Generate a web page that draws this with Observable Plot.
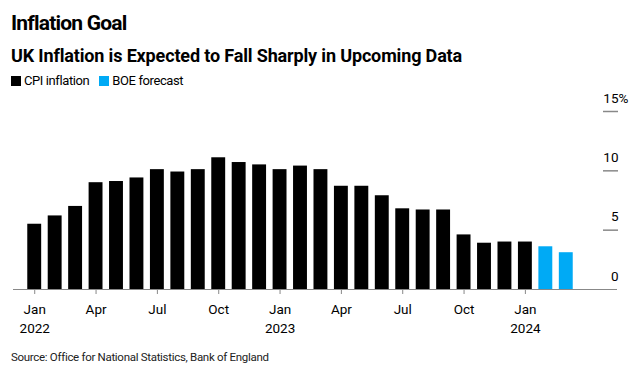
<!DOCTYPE html>
<html>
<head>
<meta charset="utf-8">
<script src="https://cdn.jsdelivr.net/npm/d3@7"></script>
<script src="https://cdn.jsdelivr.net/npm/@observablehq/plot@0.6"></script>
<style>
  html, body { margin: 0; padding: 0; background: #fff; }
  body { width: 638px; height: 374px; overflow: hidden; font-family: "Roboto", "Liberation Sans", sans-serif; color: #000; }
  .title { position: absolute; left: 11px; top: 11px; font-size: 21px; font-weight: bold; letter-spacing: -0.8px; }
  .subtitle { position: absolute; left: 11px; top: 45px; font-size: 18px; font-weight: bold; letter-spacing: -0.15px; }
  .legend { position: absolute; left: 11px; top: 73px; font-size: 13px; letter-spacing: -0.4px; display: flex; align-items: center; }
  .legend .sw { display: inline-block; width: 10px; height: 10px; margin-right: 3px; }
  .legend .item { display: flex; align-items: center; margin-right: 10px; }
  #chart { position: absolute; left: 0; top: 88px; }
  .source { position: absolute; left: 11px; top: 350px; font-size: 11.5px; letter-spacing: -0.3px; color: #222; }
</style>
</head>
<body>
<div class="title">Inflation Goal</div>
<div class="subtitle">UK Inflation is Expected to Fall Sharply in Upcoming Data</div>
<div class="legend" id="legend"></div>
<div id="chart"></div>
<div class="source">Source: Office for National Statistics, Bank of England</div>
<script>
// Months Jan 2022 .. Mar 2024
const months = [
  "2022-01","2022-02","2022-03","2022-04","2022-05","2022-06","2022-07","2022-08","2022-09","2022-10","2022-11","2022-12",
  "2023-01","2023-02","2023-03","2023-04","2023-05","2023-06","2023-07","2023-08","2023-09","2023-10","2023-11","2023-12",
  "2024-01","2024-02","2024-03"
];
const cpiInflation = [5.5, 6.2, 7.0, 9.0, 9.1, 9.4, 10.1, 9.9, 10.1, 11.1, 10.7, 10.5,
                      10.1, 10.4, 10.1, 8.7, 8.7, 7.9, 6.8, 6.7, 6.7, 4.6, 3.9, 4.0, 4.0];
const boeForecast = [3.6, 3.1];
const seriesNames = ["CPI inflation", "BOE forecast"];
const seriesColors = ["#000000", "#00aaf5"];
const xTicks = ["2022-01","2022-04","2022-07","2022-10","2023-01","2023-04","2023-07","2023-10","2024-01"];
const monthNames = ["Jan","Feb","Mar","Apr","May","Jun","Jul","Aug","Sep","Oct","Nov","Dec"];
const yTicks = [0, 5, 10, 15];

const data = [
  ...cpiInflation.map((v, i) => ({month: months[i], value: v, series: seriesNames[0]})),
  ...boeForecast.map((v, i) => ({month: months[cpiInflation.length + i], value: v, series: seriesNames[1]}))
];

// legend
const legend = document.getElementById("legend");
seriesNames.forEach((n, i) => {
  const it = document.createElement("span");
  it.className = "item";
  it.innerHTML = `<span class="sw" style="background:${seriesColors[i]}"></span>${n}`;
  legend.appendChild(it);
});

const fmtTick = (m) => {
  const [y, mo] = m.split("-").map(Number);
  const name = monthNames[mo - 1];
  return mo === 1 ? `${name}\n${y}` : name;
};

const chart = Plot.plot({
  width: 638,
  height: 252,
  marginLeft: 13,
  marginRight: 21,
  marginTop: 23,
  marginBottom: 51,
  style: {fontFamily: '"Roboto", "Liberation Sans", sans-serif', fontSize: "13px", color: "#000", background: "#fff"},
  x: {type: "band", domain: months, round: false, paddingInner: 0.32, paddingOuter: 0.16, insetLeft: 11, insetRight: 41, label: null},
  y: {domain: [0, 15], label: null},
  color: {domain: seriesNames, range: seriesColors},
  marks: [
    Plot.barY(data, {x: "month", y: "value", fill: "series"}),
    Plot.ruleY([0], {stroke: "#888", strokeWidth: 1.2}),
    Plot.axisX({ticks: xTicks, tickFormat: fmtTick, tickSize: 5, stroke: "#888", tickPadding: 7, lineHeight: 1.35, fontSize: 13.5, fill: "#000"}),
    Plot.axisY({anchor: "right", ticks: yTicks.filter(d => d > 0), tickSize: -15, fill: "none", stroke: "#888", strokeWidth: 1.5, label: null}),
    Plot.axisY({anchor: "right", ticks: yTicks, tickSize: 0, tickPadding: 0, dx: 1, dy: -13, textAnchor: "end", tickFormat: d => String(d), fontSize: 13.5, fill: "#000", label: null}),
    Plot.text([yTicks[yTicks.length - 1]], {y: d => d, text: () => "%", frameAnchor: "right", textAnchor: "start", dx: 1, dy: -13, fontSize: 13.5, fill: "#000"})
  ]
});
document.getElementById("chart").appendChild(chart);
</script>
</body>
</html>
